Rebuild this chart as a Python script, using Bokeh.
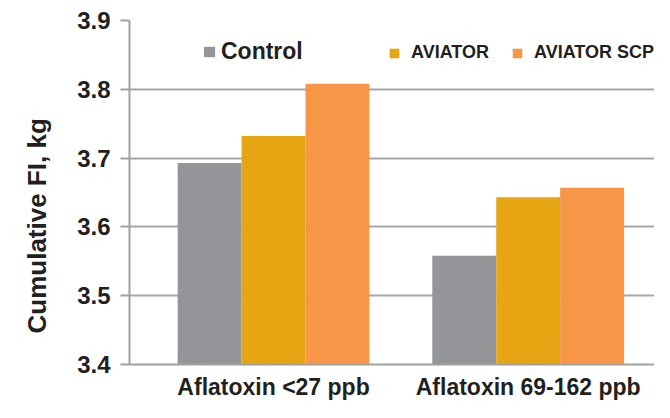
from bokeh.plotting import figure
from bokeh.models import Range1d, FixedTicker, Legend, LegendItem, Title
from bokeh.embed import file_html
from bokeh.resources import INLINE

categories = ["Aflatoxin <27 ppb", "Aflatoxin 69-162 ppb"]
series = ["Control", "AVIATOR", "AVIATOR SCP"]
control = [3.693, 3.558]
aviator = [3.732, 3.643]
aviator_scp = [3.808, 3.657]
y_ticks = [3.4, 3.5, 3.6, 3.7, 3.8, 3.9]
y_title = "Cumulative FI, kg"
colors = ["#939598", "#E6A614", "#F79646"]

y_start, y_end = 3.4, 3.9
bar_w = 0.251
offsets = [-bar_w, 0.0, bar_w]
FONT = "Liberation Sans"
TXT = "#231f20"

p = figure(width=654, height=402, output_backend="svg", toolbar_location=None,
           x_range=Range1d(-0.5656, 1.496), y_range=Range1d(y_start, y_end),
           min_border_left=127, min_border_right=0, min_border_top=20,
           min_border_bottom=30)
p.outline_line_color = None
p.background_fill_color = "white"

renderers = []
for vals, off, col in zip([control, aviator, aviator_scp], offsets, colors):
    xs = [i + off for i in range(len(categories))]
    r = p.vbar(x=xs, top=vals, bottom=y_start, width=bar_w, fill_color=col,
               line_color=None)
    renderers.append(r)

# grid
p.xgrid.visible = False
p.ygrid.grid_line_color = "#a6a6a6"
p.ygrid.grid_line_width = 2
p.ygrid.ticker = FixedTicker(ticks=y_ticks)

# y axis
ya = p.yaxis[0]
ya.ticker = FixedTicker(ticks=y_ticks)
ya.axis_line_color = "#a0a0a0"
ya.axis_line_width = 2
ya.major_tick_line_color = "#a0a0a0"
ya.major_tick_line_width = 2
ya.major_tick_out = 9
ya.major_tick_in = 0
ya.minor_tick_line_color = None
ya.major_label_text_font = FONT
ya.major_label_text_font_style = "bold"
ya.major_label_text_font_size = "24px"
ya.major_label_text_color = TXT
ya.major_label_standoff = 10

# y title as a side title (allows an offset along the axis)
yt = Title(text=y_title, align="left", vertical_align="top", offset=31,
           standoff=42, text_font=FONT, text_font_style="bold",
           text_font_size="26px", text_color=TXT)
p.add_layout(yt, "left")

# x axis
xa = p.xaxis[0]
xa.ticker = FixedTicker(ticks=list(range(len(categories))))
xa.major_label_overrides = {i: c for i, c in enumerate(categories)}
xa.axis_line_color = "#a0a0a0"
xa.axis_line_width = 2
xa.major_tick_line_color = None
xa.minor_tick_line_color = None
xa.major_label_text_font = FONT
xa.major_label_text_font_style = "bold"
xa.major_label_text_font_size = "23px"
xa.major_label_text_color = TXT
xa.major_label_standoff = 3

common = dict(padding=0, margin=0, border_line_color=None,
              background_fill_alpha=0, label_text_font=FONT,
              label_text_font_style="bold", label_text_color=TXT)

leg1 = Legend(items=[LegendItem(label=series[0], renderers=[renderers[0]])],
              location=(73, 299), glyph_width=14, glyph_height=13,
              label_standoff=5, label_text_font_size="23px", **common)
leg2 = Legend(items=[LegendItem(label=series[1], renderers=[renderers[1]]),
                     LegendItem(label=series[2], renderers=[renderers[2]])],
              location=(259, 301), orientation="horizontal", spacing=22,
              glyph_width=12, glyph_height=12, label_standoff=11,
              label_text_font_size="18px", **common)
p.add_layout(leg1)
p.add_layout(leg2)

open("out.html", "w").write(file_html(p, INLINE))
